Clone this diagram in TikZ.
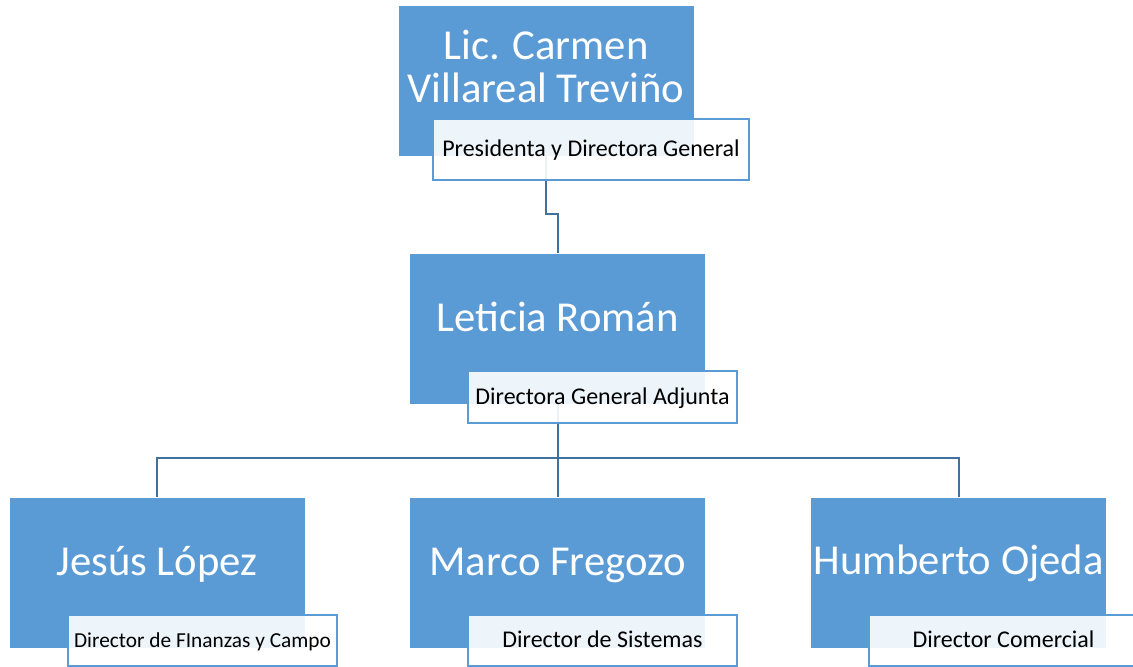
\documentclass[tikz,border=0pt]{standalone}
\usepackage{fontspec}
\setmainfont{Carlito}
\definecolor{boxblue}{HTML}{5B9BD5}
\definecolor{lineblue}{HTML}{41719C}
\tikzset{
  namebox/.style={rectangle, fill=boxblue, draw=white, line width=0.4pt, inner sep=0pt,
    minimum width=222pt, minimum height=113.25pt},
  nametext/.style={text=white, align=center, inner sep=0pt, font=\fontsize{32}{32.5}\selectfont},
  rolebox/.style={rectangle, draw=boxblue, line width=1.5pt, fill=white, fill opacity=0.9,
    text opacity=1, inner sep=0pt, minimum width=201.75pt, minimum height=38.25pt,
    text height=11pt, text depth=0.5pt, font=\fontsize{18}{21}\selectfont},
  link/.style={draw=lineblue, line width=1.5pt}
}
\begin{document}
\begin{tikzpicture}[x=0.75pt,y=-0.75pt]
\useasboundingbox (0,0) rectangle (1133,667);
\clip (0,0) rectangle (1133,667);
% cajas
\node[namebox] (carmen) at (546,80.5) {};
\node[namebox] (leticia) at (557.5,328.5) {};
\node[namebox] (jesus) at (157,572.5) {};
\node[namebox] (marco) at (557.5,572.5) {};
\node[namebox] (humberto) at (958.5,572.5) {};
% nombres
\node[nametext, anchor=base] (carmenname) at (546,103) {Lic. Carmen\\Villareal Treviño};
\node[nametext, anchor=base] (leticianame) at (557.5,331) {Leticia Román};
\node[nametext, anchor=base] (jesusname) at (157,575) {Jesús López};
\node[nametext, anchor=base] (marconame) at (557.5,575) {Marco Fregozo};
\node[nametext, anchor=base] (humbertoname) at (958.5,574) {Humberto Ojeda};
% lineas
\draw[link] (carmen.south) -- ++(0,58) -| (leticia.north);
\draw[link] (leticia.south) -- ++(0,54) coordinate (bus);
\draw[link] (bus) -| (jesus.north);
\draw[link] (bus) -- (marco.north);
\draw[link] (bus) -| (humberto.north);
% cargos
\node[rolebox, minimum width=237pt, minimum height=45.75pt] (carmenrol) at (591,149.5) {Presidenta y Directora General};
\node[rolebox, minimum height=39pt] (leticiarol) at (602.5,397) {Directora General Adjunta};
\node[rolebox, font=\fontsize{16}{19}\selectfont] (jesusrol) at (202.5,640.5) {Director de FInanzas y Campo};
\node[rolebox] (marcorol) at (602.5,640.5) {Director de Sistemas};
\node[rolebox] (humbertorol) at (1003.5,640.5) {Director Comercial};
\end{tikzpicture}
\end{document}
